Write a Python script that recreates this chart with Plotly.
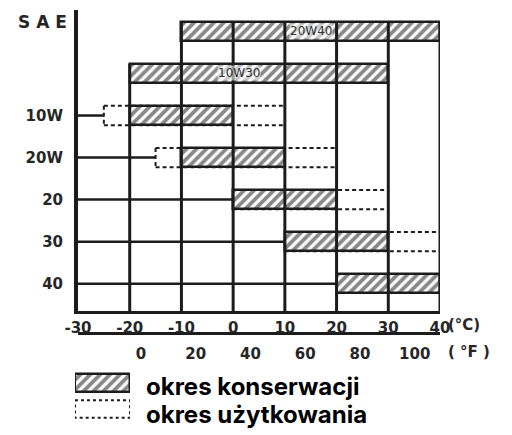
import plotly.graph_objects as go

# ---------------- data ----------------
grades = ["20W40", "10W30", "10W", "20W", "20", "30", "40"]
multigrade = [True, True, False, False, False, False, False]
cons_start = [-10, -20, -20, -10, 0, 10, 20]   # okres konserwacji (hatched)
cons_end = [40, 30, 0, 10, 20, 30, 40]
use_start = [-10, -20, -25, -15, 0, 10, 20]    # okres użytkowania (dashed)
use_end = [40, 30, 10, 20, 30, 40, 40]
c_ticks = [-30, -20, -10, 0, 10, 20, 30, 40]
f_ticks = [0, 20, 40, 60, 80, 100]
legend_labels = ["okres konserwacji", "okres użytkowania"]

# ---------------- layout constants ----------------
W, H = 512, 435
OFF = 8                       # page body margin
X0PX, X1PX = 78, 440          # reference pixel of -30 and 40 °C
YTOP, YBOT = 10, 311          # plot area in reference pixels
C_MIN, C_MAX = c_ticks[0], c_ticks[-1]
Y_RANGE = [6.65, -0.51]
BAR_H = 0.46
INK = "#1c1c1c"
TICKFONT = dict(family="DejaVu Sans", size=15, color="#262626", weight="bold")
HATCH = dict(shape="/", fgcolor="#111", bgcolor="white", size=7, solidity=0.55)


def px(xpx):
    return (xpx - OFF) / W


def py(ypx):
    return 1 - (ypx - OFF) / H


def px_to_c(p):
    return C_MIN + (p - X0PX) * (C_MAX - C_MIN) / (X1PX - X0PX)


def c_to_f(c):
    return c * 9 / 5 + 32


rows = list(range(len(grades)))
fig = go.Figure()

# hatched bars (okres konserwacji)
fig.add_trace(go.Bar(
    orientation="h", y=rows,
    x=[e - s for s, e in zip(cons_start, cons_end)], base=cons_start,
    width=BAR_H, cliponaxis=False, showlegend=False,
    marker=dict(color="white", pattern=HATCH, line=dict(color=INK, width=2.5)),
    xaxis="x", yaxis="y", hoverinfo="skip"))

# empty trace so the °F axis is drawn
fig.add_trace(go.Scatter(x=[], y=[], xaxis="x3", yaxis="y", showlegend=False, hoverinfo="skip"))

shapes = []
# dashed boxes (okres użytkowania)
for k in rows:
    if (use_start[k], use_end[k]) == (cons_start[k], cons_end[k]):
        continue
    for yy in (k - BAR_H / 2, k + BAR_H / 2):
        shapes.append(dict(type="line", xref="x", yref="y", x0=use_start[k], x1=use_end[k],
                           y0=yy, y1=yy, line=dict(color=INK, width=2, dash="4px,3px")))
    if use_start[k] < cons_start[k]:
        shapes.append(dict(type="line", xref="x", yref="y", x0=use_start[k], x1=use_start[k],
                           y0=k - BAR_H / 2, y1=k + BAR_H / 2,
                           line=dict(color=INK, width=2, dash="4px,3px")))

# horizontal stems for single grades
for k in rows:
    if multigrade[k]:
        continue
    end = min(use_start[k], cons_start[k])
    shapes.append(dict(type="line", xref="x", yref="y", x0=C_MIN, x1=end, y0=k, y1=k,
                       line=dict(color=INK, width=2.5)))

# vertical grid lines, starting at the first bar that covers them
for xv in c_ticks[1:]:
    top = next(k for k in rows if cons_start[k] <= xv <= cons_end[k])
    shapes.append(dict(type="line", xref="x", yref="y", x0=xv, x1=xv,
                       y0=top - BAR_H / 2, y1=Y_RANGE[0], line=dict(color=INK, width=3)))

annotations = []
# multigrade labels inside bars
for k in rows:
    if multigrade[k]:
        mid = (cons_start[k] + cons_end[k]) / 2
        annotations.append(dict(x=mid, y=k, xref="x", yref="y", text=grades[k], showarrow=False,
                                xshift=0 if k == 0 else -20, xanchor="center", yanchor="middle",
                                font=dict(family="DejaVu Sans", size=12, color="#333"),
                                bgcolor="rgba(255,255,255,0.55)", borderpad=0))

annotations.append(dict(x=px(42), y=py(22), xref="paper", yref="paper", text="S A E",
                        xanchor="center", yanchor="middle", showarrow=False,
                        font=dict(family="DejaVu Sans", size=17, color="#262626", weight="bold")))
annotations.append(dict(x=px(446), y=py(325), xref="paper", yref="paper", text="(°C)",
                        xanchor="left", yanchor="middle", showarrow=False, font=TICKFONT))
annotations.append(dict(x=px(446), y=py(352), xref="paper", yref="paper", text="( °F )",
                        xanchor="left", yanchor="middle", showarrow=False, font=TICKFONT))

# legend
LEG_Y = [386, 414]
for i, lab in enumerate(legend_labels):
    annotations.append(dict(x=px(144), y=py(LEG_Y[i]), xref="paper", yref="paper", text=lab,
                            xanchor="left", yanchor="middle", showarrow=False,
                            font=dict(family="Inter", size=24, color="black", weight="bold")))

fig.add_trace(go.Bar(
    orientation="h", y=[0], x=[1], base=[0], width=0.66, cliponaxis=False, showlegend=False,
    marker=dict(color="white", pattern=HATCH, line=dict(color=INK, width=2.5)),
    xaxis="x2", yaxis="y2", hoverinfo="skip"))
shapes.append(dict(type="rect", xref="x2", yref="y2", x0=0, x1=1, y0=1 - 0.34, y1=1 + 0.34,
                   line=dict(color=INK, width=2, dash="3px,3px")))

fig.update_layout(
    width=W, height=H, margin=dict(l=0, r=0, t=0, b=0, autoexpand=False),
    paper_bgcolor="white", plot_bgcolor="rgba(0,0,0,0)",
    bargap=0, barmode="overlay",
    shapes=shapes, annotations=annotations,
    xaxis=dict(domain=[px(X0PX), px(X1PX)], range=[C_MIN, C_MAX], showgrid=False, zeroline=False,
               showline=True, linecolor=INK, linewidth=3, tickvals=c_ticks,
               ticktext=[str(v) for v in c_ticks], ticks="", tickfont=TICKFONT,
               ticklabelstandoff=1, anchor="y", automargin=False),
    yaxis=dict(domain=[py(YBOT), py(YTOP)], range=Y_RANGE, showgrid=False, zeroline=False,
               showline=True, linecolor=INK, linewidth=4,
               tickvals=[k for k in rows if not multigrade[k]],
               ticktext=[grades[k] for k in rows if not multigrade[k]],
               ticks="", tickfont=TICKFONT, ticklabelstandoff=8, anchor="x", automargin=False),
    xaxis3=dict(domain=[px(75), px(455)], range=[c_to_f(px_to_c(75)), c_to_f(px_to_c(455))],
                overlaying="x", anchor="free", position=py(333), side="bottom",
                showgrid=False, zeroline=False, showline=True, linecolor=INK, linewidth=3,
                tickvals=f_ticks, ticktext=[str(v) for v in f_ticks], ticks="", tickfont=TICKFONT,
                ticklabelstandoff=6, automargin=False),
    xaxis2=dict(domain=[px(75), px(130)], range=[0, 1], visible=False, anchor="y2", automargin=False),
    yaxis2=dict(domain=[py(422), py(370)], range=[1.5, -0.5], visible=False, anchor="x2",
                automargin=False),
)

fig.write_html("out.html")
